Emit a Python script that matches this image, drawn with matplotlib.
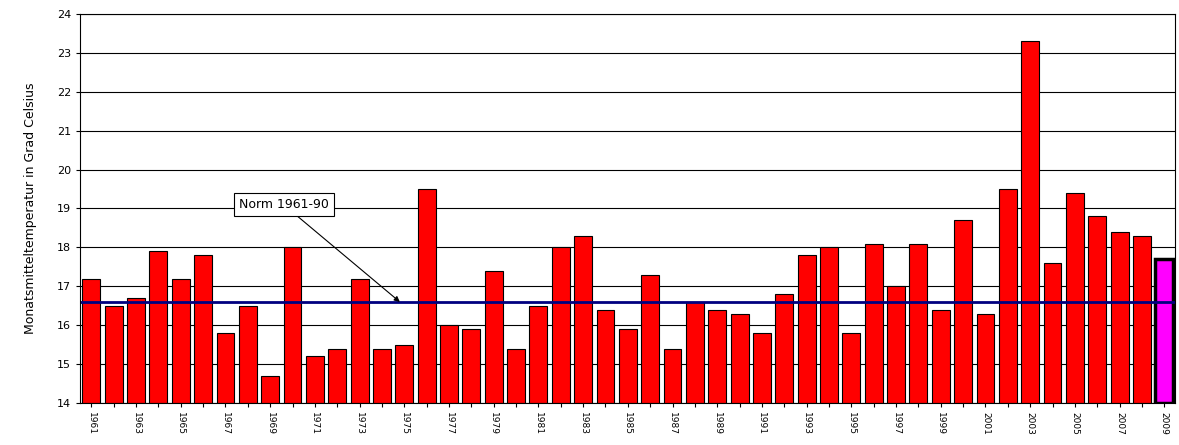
import numpy as np
import matplotlib.pyplot as plt

years = list(range(1961, 2010))
temps = [17.2, 16.5, 16.7, 17.9, 17.2, 17.8, 15.8, 16.5, 14.7, 18.0,
         15.2, 15.4, 17.2, 15.4, 15.5, 19.5, 16.0, 15.9, 17.4, 15.4,
         16.5, 18.0, 18.3, 16.4, 15.9, 17.3, 15.4, 16.6, 16.4, 16.3,
         15.8, 16.8, 17.8, 18.0, 15.8, 18.1, 17.0, 18.1, 16.4, 18.7,
         16.3, 19.5, 23.3, 17.6, 19.4, 18.8, 18.4, 18.3, 17.7]
norm = 16.6

fig = plt.figure(figsize=(11.79, 4.45), dpi=100)
ax = fig.add_axes([0.068, 0.094, 0.929, 0.875])

x = np.arange(len(years))
colors = ['red'] * (len(years) - 1) + ['#ff00ff']
bars = ax.bar(x, np.array(temps) - 14, bottom=14, width=0.8, color=colors,
              edgecolor='black', linewidth=0.8)
bars[-1].set_linewidth(2.5)

ax.plot([-0.5, len(years) - 0.5], [norm, norm], color='#000080', lw=2)

ax.set_xlim(-0.5, len(years) - 0.5)
ax.set_ylim(14, 24)
ax.set_yticks(range(14, 25))
ax.yaxis.grid(True, color='black', lw=0.8)
ax.set_axisbelow(True)
ax.tick_params(axis='y', labelsize=8, length=3)
ax.set_xticks(x)
ax.set_xticklabels([str(y) if y % 2 == 1 else '' for y in years],
                   rotation=-90, fontsize=6.5)
ax.tick_params(axis='x', length=3)
ax.set_ylabel('Monatsmitteltemperatur in Grad Celsius', fontsize=9, labelpad=14)

ax.annotate('Norm 1961-90', xy=(13.8, norm), xytext=(8.6, 19.1),
            fontsize=9, ha='center', va='center',
            bbox=dict(boxstyle='square,pad=0.4', fc='white', ec='black', lw=0.8),
            arrowprops=dict(arrowstyle='-|>', color='black', lw=0.8,
                            shrinkA=0, shrinkB=0, mutation_scale=8))

fig.savefig('out.png')
